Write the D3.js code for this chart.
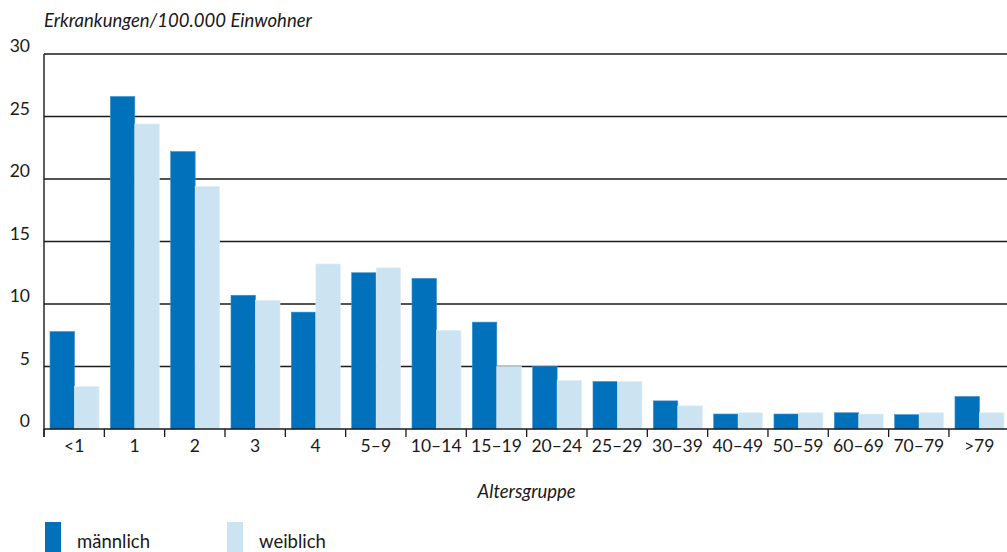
<!DOCTYPE html>
<html><head><meta charset="utf-8">
<script src="https://cdn.jsdelivr.net/npm/d3@7"></script>
<style>body{margin:0;background:#fff}svg{display:block}text{font-family:Lato,"Open Sans",sans-serif;fill:#1a1a1a}</style>
</head><body>
<script>
const categories = ["<1","1","2","3","4","5–9","10–14","15–19","20–24","25–29","30–39","40–49","50–59","60–69","70–79",">79"];
const maleValues = [7.8,26.6,22.2,10.7,9.35,12.5,12.05,8.55,5.0,3.8,2.25,1.2,1.2,1.3,1.15,2.6];
const femaleValues = [3.4,24.4,19.4,10.3,13.2,12.9,7.9,5.0,3.9,3.8,1.85,1.3,1.3,1.2,1.3,1.3];
const yTicks = [0,5,10,15,20,25,30];
const seriesNames = ["männlich","weiblich"];
const colors = ["#0071ba","#cce3f1"];

const W=1007,H=552;
const svg=d3.select("body").append("svg").attr("width",W).attr("height",H);
const x0=44, x1=1009.3, yTop=54, yBot=429;
const x=d3.scaleBand().domain(categories).range([x0,x1]).paddingInner(0).paddingOuter(0);
const y=d3.scaleLinear().domain([0,30]).range([yBot,yTop]);

// gridlines
svg.append("g").selectAll("line").data(yTicks.filter(t=>t>0)).join("line")
  .attr("x1",x0).attr("x2",W).attr("y1",d=>y(d)).attr("y2",d=>y(d))
  .attr("stroke","#1a1a1a").attr("stroke-width",1.4);

// y tick labels
svg.append("g").selectAll("text").data(yTicks).join("text")
  .attr("x",30).attr("y",d=>y(d)-6).attr("text-anchor","end").attr("dominant-baseline","middle")
  .attr("font-size",17.5).text(d=>d);

// bars
const bw=24.5, off=6;
const data=categories.map((c,i)=>({c,m:maleValues[i],f:femaleValues[i]}));
const g=svg.append("g");
g.selectAll("rect.m").data(data).join("rect").attr("class","m")
  .attr("x",d=>x(d.c)+off).attr("width",bw)
  .attr("y",d=>y(d.m)).attr("height",d=>y(0)-y(d.m))
  .attr("fill",colors[0]).attr("stroke","#3d8fcb").attr("stroke-width",0.6);
g.selectAll("rect.f").data(data).join("rect").attr("class","f")
  .attr("x",d=>x(d.c)+off+bw).attr("width",bw)
  .attr("y",d=>y(d.f)).attr("height",d=>y(0)-y(d.f))
  .attr("fill",colors[1]).attr("stroke","#e3eff8").attr("stroke-width",0.6);

// x axis
const xa=svg.append("g").attr("transform",`translate(0,${yBot})`)
  .call(d3.axisBottom(x).tickSize(0).tickPadding(11).tickSizeOuter(0));
xa.select(".domain").remove();
xa.selectAll("text").attr("font-size",17.5).attr("font-family","Lato,'Open Sans',sans-serif").attr("fill","#1a1a1a");
svg.append("line").attr("x1",x0).attr("x2",W).attr("y1",yBot).attr("y2",yBot).attr("stroke","#1a1a1a").attr("stroke-width",1.6);
// band ticks
svg.append("g").selectAll("line").data(categories).join("line")
  .attr("x1",d=>x(d)).attr("x2",d=>x(d)).attr("y1",yBot).attr("y2",yBot+8)
  .attr("stroke","#1a1a1a").attr("stroke-width",1.3);
// y axis line
svg.append("line").attr("x1",x0).attr("x2",x0).attr("y1",yTop).attr("y2",yBot+8).attr("stroke","#1a1a1a").attr("stroke-width",1.4);

// titles
svg.append("text").attr("x",44).attr("y",27).attr("font-size",18.5).attr("font-style","italic").text("Erkrankungen/100.000 Einwohner");
svg.append("text").attr("x",(x0+x1)/2).attr("y",498).attr("text-anchor","middle").attr("font-size",18.5).attr("font-style","italic").text("Altersgruppe");

// legend
const lx=[45,227];
const lg=svg.append("g");
seriesNames.forEach((n,i)=>{
  lg.append("rect").attr("x",lx[i]).attr("y",522).attr("width",16).attr("height",32).attr("fill",colors[i]);
  lg.append("text").attr("x",lx[i]+32).attr("y",548).attr("font-size",18.5).text(n);
});
</script>
</body></html>
